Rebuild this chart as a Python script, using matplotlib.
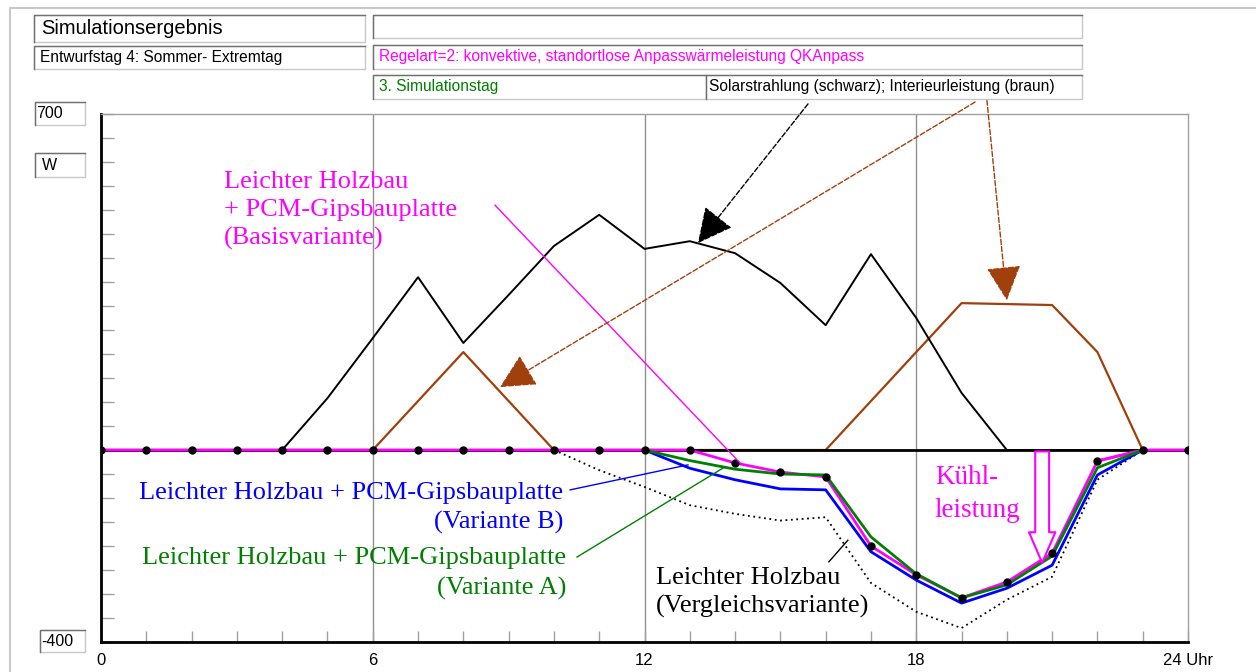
import matplotlib.pyplot as plt
from matplotlib.patches import Rectangle
from matplotlib.lines import Line2D

# hours of the day
hours = list(range(25))

# Solarstrahlung (schwarz), W
solar = [0, 0, 0, 0, 0, 108, 233, 360, 223, 323, 425, 490, 419, 435, 410, 348,
         260, 408, 275, 119, 0, 0, 0, 0, 0]
# Interieurleistung (braun), W
interior = [0, 0, 0, 0, 0, 0, 0, 102, 204, 102, 0, 0, 0, 0, 0, 0,
            0, 102, 204, 306, 304, 302, 204, 0, 0]
# Basisvariante (magenta, with dots)
basis = [0, 0, 0, 0, 0, 0, 0, 0, 0, 0, 0, 0, 0, 0, -27, -46,
         -56, -200, -260, -308, -275, -215, -23, 0, 0]
# Variante A (green) and B (blue), from 12 h
hours_ab = list(range(12, 24))
var_a = [0, -22, -40, -50, -52, -181, -258, -308, -281, -221, -37, 0]
var_b = [0, -38, -62, -81, -83, -212, -271, -319, -288, -240, -52, 0]
# Vergleichsvariante (dotted), from 10 h
hours_v = list(range(10, 24))
vergleich = [0, -42, -77, -115, -133, -147, -140, -277, -337, -371, -312, -264, -62, 0]

xtick_labels = ['0', '', '', '', '', '', '6', '', '', '', '', '', '12',
                '', '', '', '', '', '18', '', '', '', '', '', '24 Uhr']

MAG = '#ff00ff'
BROWN = '#a0400c'
GREEN = '#008000'
BLUE = '#0000ff'
SANS = 'Liberation Sans'
SERIF = 'Liberation Serif'

W, H = 1256, 672
fig = plt.figure(figsize=(W / 100, H / 100), dpi=100)


def fx(px):
    return px / W


def fy(py):
    return 1 - py / H


def box(x0, y0, x1, y1, text='', color='black', size=11, pad=6):
    fig.add_artist(Rectangle((fx(x0), fy(y1)), fx(x1 - x0), (y1 - y0) / H,
                             transform=fig.transFigure, facecolor='white',
                             edgecolor='#c8c8c8', lw=1))
    fig.add_artist(Line2D([fx(x0), fx(x0), fx(x1)], [fy(y1), fy(y0), fy(y0)],
                          transform=fig.transFigure, color='#707070', lw=1))
    if text:
        fig.text(fx(x0 + pad), fy((y0 + y1) / 2), text, color=color, fontsize=size,
                 family=SANS, va='center', ha='left')


# outer frame
fig.add_artist(Line2D([fx(10), fx(10), fx(1256)], [fy(672), fy(8), fy(8)],
                      transform=fig.transFigure, color='#c8c8c8', lw=1.5))

# header boxes
box(34, 15, 365, 42, 'Simulationsergebnis', size=14.5, pad=7)
box(34, 46, 365, 69, 'Entwurfstag 4: Sommer- Extremtag', size=11.2)
box(373, 15, 1082, 38)
box(373, 45, 1082, 69, 'Regelart=2: konvektive, standortlose Anpasswärmeleistung QKAnpass',
    color=MAG, size=11.2, pad=6)
box(373, 75, 706, 99, '3. Simulationstag', color=GREEN, size=11.2, pad=6)
box(706, 75, 1082, 99, 'Solarstrahlung (schwarz); Interieurleistung (braun)', size=11.2, pad=3)

# y label boxes
box(35, 102, 85, 125, '700', size=11.5, pad=1)
box(35, 153, 85, 177, 'W', size=11.5, pad=7)
box(40, 630, 85, 652, '-400', size=11.5, pad=1)

ax = fig.add_axes([fx(101), fy(642), fx(1188 - 101), (642 - 114) / H])
ax.set_xlim(0, 24)
ax.set_ylim(-400, 700)

for s in ['left', 'bottom']:
    ax.spines[s].set_linewidth(2)
    ax.spines[s].set_color('black')
for s in ['top', 'right']:
    ax.spines[s].set_linewidth(1)
    ax.spines[s].set_color('#a0a0a0')

ax.set_xticks(hours, labels=xtick_labels)
ax.set_yticks(range(-400, 701, 50), labels=[])
ax.tick_params(axis='both', direction='in', color='#a0a0a0', width=1)
ax.tick_params(axis='x', length=8, pad=8, labelsize=12)
ax.tick_params(axis='y', length=9)
for lab in ax.get_xticklabels():
    lab.set_family(SANS)

for g in [6, 12, 18]:
    ax.axvline(g, color='#909090', lw=1, zorder=1)

# series
ax.plot(hours, interior, color=BROWN, lw=1.6, zorder=2)
ax.plot(hours, solar, color='black', lw=1.4, zorder=3)
ax.plot([0, 24], [0, 0], color='black', lw=2, zorder=3)
ax.plot(hours_v, vergleich, color='black', lw=1.3, ls=(0, (1, 2)), zorder=4)
ax.plot(hours_ab, var_b, color=BLUE, lw=2, zorder=5)
ax.plot(hours[:24], basis[:24], color=MAG, lw=2, zorder=6)
ax.plot(hours[22:], basis[22:], color=MAG, lw=2, zorder=6)
ax.plot(hours_ab, var_a, color=GREEN, lw=2, zorder=7)
ax.plot(hours, basis, ls='none', marker='o', ms=5, color='black', zorder=8)

# annotations
ax.text(2.72, 499, 'Leichter Holzbau\n+ PCM-Gipsbauplatte\n(Basisvariante)', color=MAG,
        family=SERIF, fontsize=19, va='center', ha='left', linespacing=1.33)
ax.plot([8.7, 14.11], [510, -27], color=MAG, lw=1, zorder=9)

ax.text(10.2, -120, 'Leichter Holzbau + PCM-Gipsbauplatte\n(Variante B)', color=BLUE,
        family=SERIF, fontsize=19, va='center', ha='right', multialignment='right',
        linespacing=1.38)
ax.plot([10.36, 12.96], [-83, -31], color=BLUE, lw=1, zorder=9)

ax.text(10.27, -257, 'Leichter Holzbau + PCM-Gipsbauplatte\n(Variante A)', color=GREEN,
        family=SERIF, fontsize=19, va='center', ha='right', multialignment='right',
        linespacing=1.45)
ax.plot([10.51, 13.78], [-223, -35], color=GREEN, lw=1, zorder=9)

ax.text(12.25, -297, 'Leichter Holzbau\n(Vergleichsvariante)', color='black',
        family=SERIF, fontsize=19, va='center', ha='left', linespacing=1.3)
ax.plot([16.07, 16.49], [-233, -188], color='black', lw=1, zorder=9)

ax.text(18.41, -92, 'Kühl-\nleistung', color=MAG, family=SERIF, fontsize=19.5,
        va='center', ha='left', linespacing=1.4)
ax.annotate('', xy=(20.78, -235), xytext=(20.78, -3), annotation_clip=False,
            arrowprops=dict(arrowstyle='simple,head_length=1.1,head_width=0.95,tail_width=0.5',
                            fc='white', ec=MAG, lw=1.5, mutation_scale=20,
                            shrinkA=0, shrinkB=0), zorder=9)

# dashed pointer arrows from the legend box
ax.annotate('', xy=(13.18, 431), xytext=(15.61, 721), annotation_clip=False,
            arrowprops=dict(arrowstyle='-|>,head_length=1.0,head_width=0.5', ls='--',
                            color='black', lw=1, mutation_scale=22,
                            shrinkA=0, shrinkB=0), zorder=9)
ax.annotate('', xy=(20.0, 312), xytext=(19.56, 729), annotation_clip=False,
            arrowprops=dict(arrowstyle='-|>,head_length=1.0,head_width=0.5', ls='--',
                            color=BROWN, lw=1, mutation_scale=22,
                            shrinkA=0, shrinkB=0), zorder=9)
ax.annotate('', xy=(8.81, 131), xytext=(19.3, 725), annotation_clip=False,
            arrowprops=dict(arrowstyle='-|>,head_length=1.0,head_width=0.5', ls='--',
                            color=BROWN, lw=1, mutation_scale=22,
                            shrinkA=0, shrinkB=0), zorder=9)

fig.savefig('out.png', dpi=100)
